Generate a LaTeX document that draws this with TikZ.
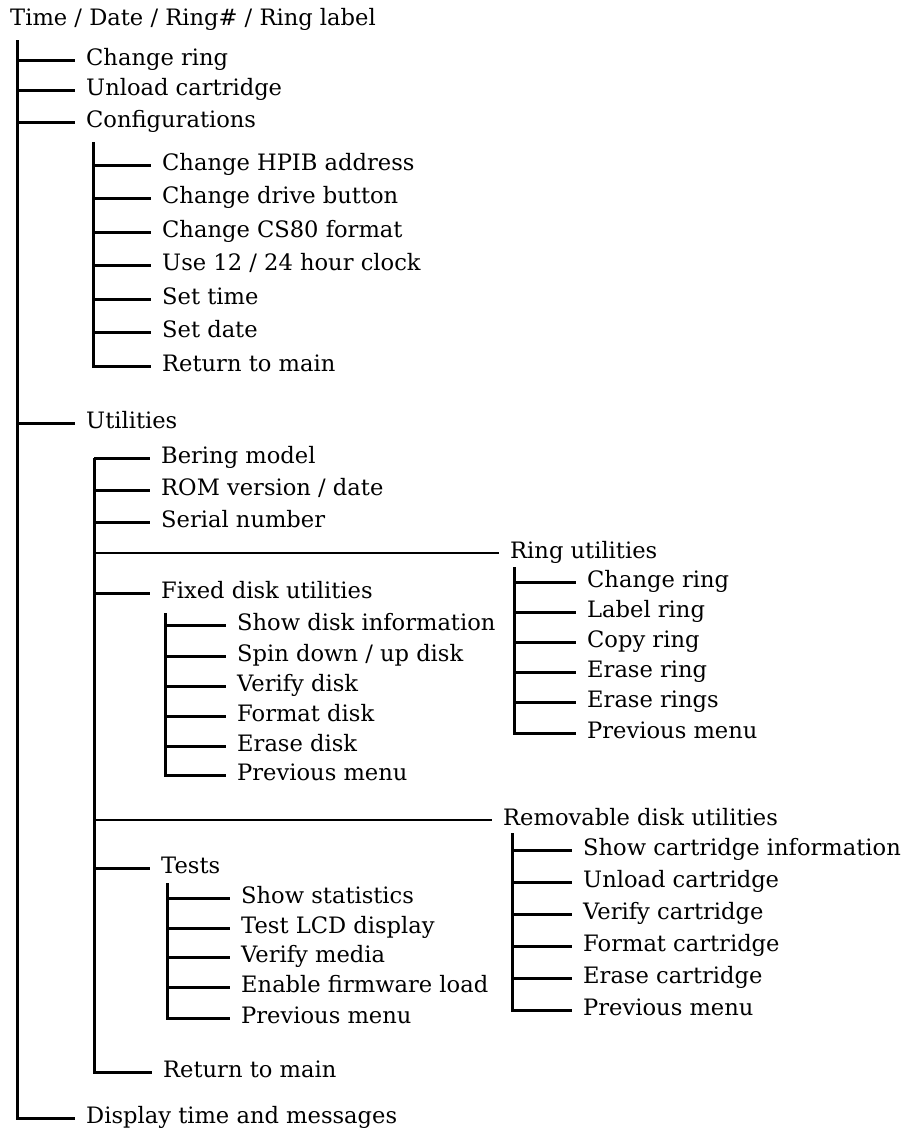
\documentclass[tikz,border=0pt]{standalone}
\usepackage{fontspec}
\setmainfont{DejaVu Serif}
\begin{document}
\begin{tikzpicture}[x=1pt,y=-1pt,
  item/.style={anchor=west, inner xsep=11pt, inner ysep=0pt, text height=16pt, text depth=4.2pt, font=\fontsize{22.6}{26}\selectfont},
  titletext/.style={anchor=base west, inner sep=0pt, font=\fontsize{22.6}{26}\selectfont},
  tree/.style={line width=3pt},
  longline/.style={line width=2.4pt}]
\useasboundingbox (0,0) rectangle (908,1130);
% root
\node[titletext] (root) at (10,25) {Time / Date / Ring\# / Ring label};
\coordinate (mainTop) at (17,40);
\node[item] (m1) at (75,60) {Change ring};
\node[item] (m2) at (75,90) {Unload cartridge};
\node[item] (m3) at (75,122) {Configurations};
\node[item] (m4) at (75,423) {Utilities};
\node[item] (m5) at (75,1118) {Display time and messages};
\foreach \n in {m1,m2,m3,m4,m5} \draw[tree] (mainTop) |- (\n.west);
% configurations
\coordinate (cfgTop) at (93,142);
\node[item] (c1) at (151,165) {Change HPIB address};
\node[item] (c2) at (151,198) {Change drive button};
\node[item] (c3) at (151,232) {Change CS80 format};
\node[item] (c4) at (151,265) {Use 12 / 24 hour clock};
\node[item] (c5) at (151,299) {Set time};
\node[item] (c6) at (151,332) {Set date};
\node[item] (c7) at (151,366) {Return to main};
\foreach \n in {c1,c2,c3,c4,c5,c6,c7} \draw[tree] (cfgTop) |- (\n.west);
% utilities
\coordinate (utTop) at (94,458);
\node[item] (u1) at (150,458) {Bering model};
\node[item] (u2) at (150,490) {ROM version / date};
\node[item] (u3) at (150,522) {Serial number};
\node[item] (u4) at (499,553) {Ring utilities};
\node[item] (u5) at (150,593) {Fixed disk utilities};
\node[item] (u6) at (492,820) {Removable disk utilities};
\node[item] (u7) at (150,868) {Tests};
\node[item] (u8) at (152,1072) {Return to main};
\foreach \n in {u1,u2,u3,u5,u7,u8} \draw[tree] (utTop) |- (\n.west);
\foreach \n in {u4,u6} \draw[longline] (utTop) |- (\n.west);
% fixed disk utilities
\coordinate (fxTop) at (165,613);
\node[item] (f1) at (226,625) {Show disk information};
\node[item] (f2) at (226,656) {Spin down / up disk};
\node[item] (f3) at (226,686) {Verify disk};
\node[item] (f4) at (226,716) {Format disk};
\node[item] (f5) at (226,746) {Erase disk};
\node[item] (f6) at (226,775) {Previous menu};
\foreach \n in {f1,f2,f3,f4,f5,f6} \draw[tree] (fxTop) |- (\n.west);
% ring utilities
\coordinate (rgTop) at (514,567);
\node[item] (r1) at (576,582) {Change ring};
\node[item] (r2) at (576,612) {Label ring};
\node[item] (r3) at (576,642) {Copy ring};
\node[item] (r4) at (576,672) {Erase ring};
\node[item] (r5) at (576,702) {Erase rings};
\node[item] (r6) at (576,733) {Previous menu};
\foreach \n in {r1,r2,r3,r4,r5,r6} \draw[tree] (rgTop) |- (\n.west);
% removable disk utilities
\coordinate (rmTop) at (512,833);
\node[item] (d1) at (572,850) {Show cartridge information};
\node[item] (d2) at (572,882) {Unload cartridge};
\node[item] (d3) at (572,914) {Verify cartridge};
\node[item] (d4) at (572,946) {Format cartridge};
\node[item] (d5) at (572,978) {Erase cartridge};
\node[item] (d6) at (572,1010) {Previous menu};
\foreach \n in {d1,d2,d3,d4,d5,d6} \draw[tree] (rmTop) |- (\n.west);
% tests
\coordinate (tsTop) at (167,883);
\node[item] (t1) at (230,898) {Show statistics};
\node[item] (t2) at (230,928) {Test LCD display};
\node[item] (t3) at (230,957) {Verify media};
\node[item] (t4) at (230,987) {Enable firmware load};
\node[item] (t5) at (230,1018) {Previous menu};
\foreach \n in {t1,t2,t3,t4,t5} \draw[tree] (tsTop) |- (\n.west);
\end{tikzpicture}
\end{document}
